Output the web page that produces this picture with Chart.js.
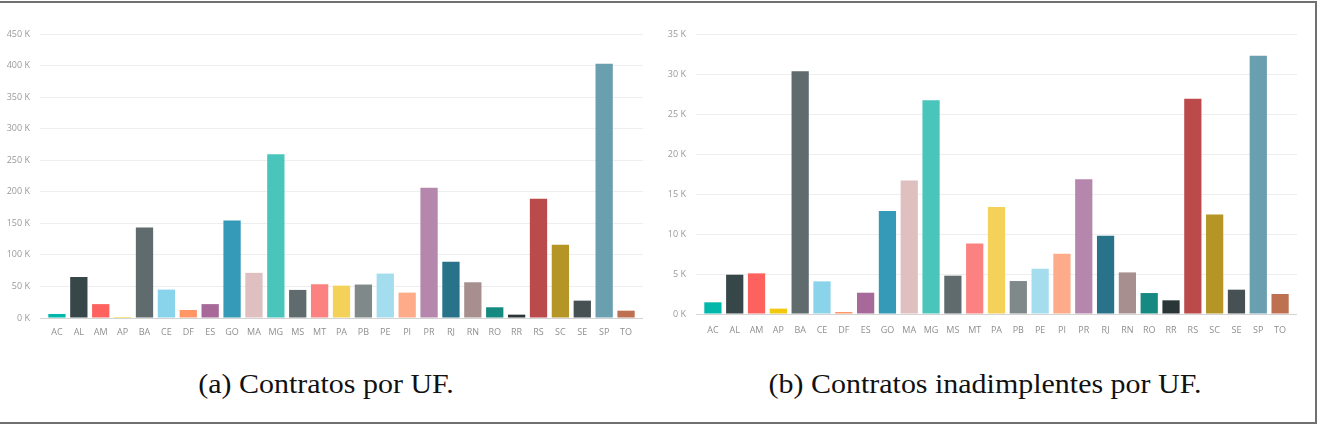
<!DOCTYPE html>
<html>
<head>
<meta charset="utf-8">
<script src="https://cdn.jsdelivr.net/npm/chart.js@4"></script>
<style>
  body { margin: 0; background: #fff; width: 1320px; height: 432px; overflow: hidden; position: relative; }
  .frame { position: absolute; left: -3px; top: 1px; width: 1320px; height: 423px; box-sizing: border-box; border: 2px solid #707070; }
  .box { position: absolute; top: 0; width: 660px; height: 345px; }
  .caption { position: absolute; top: 370px; font-family: "Liberation Serif", serif; font-size: 28px; line-height: 28px; color: #111; white-space: nowrap; transform: translateX(-50%) scaleX(1.07); }
</style>
</head>
<body>
<div class="frame"></div>
<div class="box" style="left:0"><canvas id="chartA"></canvas></div>
<div class="box" style="left:660px"><canvas id="chartB"></canvas></div>
<div class="caption" style="left:326px">(a) Contratos por UF.</div>
<div class="caption" style="left:985px">(b) Contratos inadimplentes por UF.</div>
<script>
const ufs = ["AC", "AL", "AM", "AP", "BA", "CE", "DF", "ES", "GO", "MA", "MG", "MS", "MT", "PA",
  "PB", "PE", "PI", "PR", "RJ", "RN", "RO", "RR", "RS", "SC", "SE", "SP", "TO"];

// (a) contratos por UF
const contratos = [6400, 65000, 22000, 1600, 143500, 45000, 12700, 22000, 154600, 71500, 259400,
  44500, 53500, 51300, 53000, 70400, 40200, 206500, 89000, 56600, 17000, 5300, 189000, 116000,
  27500, 403000, 11600];

// (b) contratos inadimplentes por UF
const inadimplentes = [1460, 4910, 5080, 670, 30340, 4080, 250, 2660, 12860, 16690, 26720, 4790,
  8820, 13360, 4120, 5660, 7530, 16850, 9780, 5200, 2620, 1710, 26920, 12440, 3040, 32290, 2500];

const ticksA = [0, 50000, 100000, 150000, 200000, 250000, 300000, 350000, 400000, 450000];
const ticksB = [0, 5000, 10000, 15000, 20000, 25000, 30000, 35000];

const cores = ["#01B8AA", "#374649", "#FD625E", "#F2C80F", "#5F6B6D", "#8AD4EB", "#FE9666",
  "#A66999", "#3599B8", "#DFBFBF", "#4AC5BB", "#5F6B6D", "#FB8281", "#F4D25A", "#7F898A",
  "#A4DDEE", "#FDAB89", "#B687AC", "#28738A", "#A78F8F", "#168980", "#293537", "#BB4A4A",
  "#B59525", "#475052", "#6A9FB0", "#BD7150"];

const tickFont = { family: "'Open Sans', 'DejaVu Sans', sans-serif", size: 9 };

function gridColor(ctx) {
  return ctx.tick && ctx.tick.value === 0 ? "#d4d4d4" : "#eeeeee";
}

function makeChart(id, values, ticks, o) {
  const max = ticks[ticks.length - 1];
  const step = ticks[1] - ticks[0];
  return new Chart(document.getElementById(id), {
    type: "bar",
    data: {
      labels: ufs,
      datasets: [{ data: values, backgroundColor: cores, barPercentage: 0.79, categoryPercentage: 1 }],
    },
    options: {
      responsive: false,
      animation: false,
      events: [],
      layout: { padding: { left: 0, right: o.padRight, top: o.padTop, bottom: 0 } },
      plugins: { legend: { display: false }, tooltip: { enabled: false } },
      scales: {
        x: {
          grid: { display: false },
          border: { display: false },
          ticks: { color: "#8f8f8f", font: tickFont, autoSkip: false, maxRotation: 0, padding: o.xPad },
          afterFit: (s) => { s.height = o.xHeight; },
        },
        y: {
          min: 0,
          max: max,
          border: { display: false },
          grid: { color: gridColor, tickLength: 6 },
          ticks: {
            color: "#9a9a9a",
            font: tickFont,
            padding: o.yPad,
            stepSize: step,
            callback: (v) => v / 1000 + " K",
          },
          afterFit: (s) => { s.width = o.yWidth; },
        },
        y2: {
          position: "right",
          min: 0,
          max: max,
          border: { display: false },
          grid: { color: gridColor, tickLength: 6, drawOnChartArea: false },
          ticks: { display: false, stepSize: step },
          afterFit: (s) => { s.width = 6; },
        },
      },
    },
  });
}

const cvA = document.getElementById("chartA");
cvA.width = 660; cvA.height = 345;
const cvB = document.getElementById("chartB");
cvB.width = 660; cvB.height = 345;

makeChart("chartA", contratos, ticksA, { padRight: 17, padTop: 34, xPad: 1, xHeight: 27, yPad: 10, yWidth: 46 });
makeChart("chartB", inadimplentes, ticksB, { padRight: 23, padTop: 34, xPad: 3, xHeight: 31, yPad: 10, yWidth: 42 });
</script>
</body>
</html>
